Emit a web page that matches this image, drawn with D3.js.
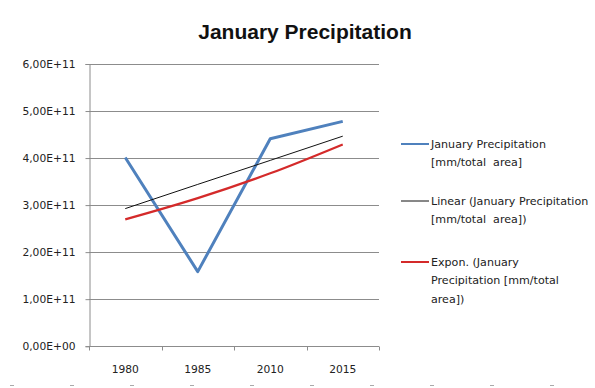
<!DOCTYPE html>
<html>
<head>
<meta charset="utf-8">
<script src="https://cdn.jsdelivr.net/npm/d3@7/dist/d3.min.js"></script>
<style>
  html, body { margin: 0; padding: 0; background: #fff; }
  svg { display: block; font-family: "DejaVu Sans", Verdana, sans-serif; }
</style>
</head>
<body>
<svg id="chart" width="595" height="388"></svg>
<script>
// Categories (years) and measured January precipitation
const years = ["1980", "1985", "2010", "2015"];
const precipitation = [4.0e11, 1.575e11, 4.40e11, 4.77e11];
// Trendline values at each category
const linearTrend = [2.915e11, 3.43e11, 3.94e11, 4.455e11];
const exponTrend = [2.685e11, 3.137e11, 3.665e11, 4.28e11];
// Value axis ticks and their labels
const yTicks = [0, 1e11, 2e11, 3e11, 4e11, 5e11, 6e11];
const yTickLabels = ["0,00E+00", "1,00E+11", "2,00E+11", "3,00E+11", "4,00E+11", "5,00E+11", "6,00E+11"];
// Legend entries
const legendLabels = [
  ["January Precipitation", "[mm/total  area]"],
  ["Linear (January Precipitation", "[mm/total  area])"],
  ["Expon. (January", "Precipitation [mm/total", "area])"]
];

const svg = d3.select("#chart");
const plot = { left: 89, right: 379, top: 63.5, bottom: 345.7 };

const x = d3.scaleBand().domain(years).range([plot.left, plot.right]);
const y = d3.scaleLinear().domain([0, 6e11]).range([plot.bottom, plot.top]);
const cx = d => x(d) + x.bandwidth() / 2;

// Title
svg.append("text")
  .attr("x", 305).attr("y", 39)
  .attr("text-anchor", "middle")
  .attr("font-family", "Liberation Sans, Arial, sans-serif")
  .attr("font-weight", "bold")
  .attr("font-size", 21)
  .attr("fill", "#111")
  .text("January Precipitation");

// Horizontal gridlines
svg.append("g")
  .selectAll("line")
  .data(yTicks.slice(1))
  .join("line")
  .attr("x1", plot.left).attr("x2", plot.right)
  .attr("y1", d => Math.round(y(d)) + 0.5).attr("y2", d => Math.round(y(d)) + 0.5)
  .attr("stroke", "#8c8c8c").attr("stroke-width", 1);

// Value axis
const yAxis = d3.axisLeft(y)
  .tickValues(yTicks)
  .tickSize(4)
  .tickPadding(10)
  .tickFormat((d, i) => yTickLabels[i]);
const gy = svg.append("g")
  .attr("transform", `translate(${plot.left + 0.5},0.5)`)
  .call(yAxis);
gy.select(".domain").attr("stroke", "#8c8c8c");
gy.selectAll(".tick line").attr("stroke", "#8c8c8c");
gy.selectAll(".tick text")
  .attr("font-size", 10.7)
  .attr("font-family", "DejaVu Sans, Verdana, sans-serif")
  .attr("fill", "#222");

// Category axis with ticks between categories
const gx = svg.append("g")
  .attr("transform", `translate(0,${Math.round(plot.bottom) + 0.5})`);
gx.append("line")
  .attr("x1", plot.left).attr("x2", plot.right)
  .attr("stroke", "#8c8c8c");
const boundaries = years.map(d => x(d)).concat([plot.right]);
gx.selectAll("line.tk")
  .data(boundaries)
  .join("line")
  .attr("class", "tk")
  .attr("x1", d => Math.round(d) + 0.5).attr("x2", d => Math.round(d) + 0.5)
  .attr("y1", 0).attr("y2", 4)
  .attr("stroke", "#8c8c8c");
gx.selectAll("text")
  .data(years)
  .join("text")
  .attr("x", d => cx(d))
  .attr("y", 26)
  .attr("text-anchor", "middle")
  .attr("font-size", 10.7)
  .attr("fill", "#222")
  .text(d => d);

// Data series and trendlines
const lineGen = d3.line().x((d, i) => cx(years[i])).y(d => y(d));
const curveGen = d3.line().x((d, i) => cx(years[i])).y(d => y(d)).curve(d3.curveMonotoneX);

svg.append("path")
  .datum(precipitation)
  .attr("d", lineGen)
  .attr("fill", "none")
  .attr("stroke", "#4f81bd")
  .attr("stroke-width", 3)
  .attr("stroke-linejoin", "round");

svg.append("path")
  .datum(linearTrend)
  .attr("d", lineGen)
  .attr("fill", "none")
  .attr("stroke", "#111")
  .attr("stroke-width", 1);

svg.append("path")
  .datum(exponTrend)
  .attr("d", curveGen)
  .attr("fill", "none")
  .attr("stroke", "#d42a2a")
  .attr("stroke-width", 2.2);

// Legend
const legendStyles = [
  { color: "#4f81bd", width: 2, y: 144 },
  { color: "#111", width: 1, y: 201 },
  { color: "#d42a2a", width: 2, y: 262 }
];
const lg = svg.append("g");
legendStyles.forEach((s, i) => {
  lg.append("line")
    .attr("x1", 401).attr("x2", 429)
    .attr("y1", s.y).attr("y2", s.y)
    .attr("stroke", s.color).attr("stroke-width", s.width);
  const t = lg.append("text")
    .attr("x", 431)
    .attr("y", s.y + 4)
    .attr("font-size", 11.1)
    .attr("fill", "#222")
    .style("white-space", "pre");
  legendLabels[i].forEach((line, j) => {
    t.append("tspan")
      .attr("x", 431)
      .attr("dy", j === 0 ? 0 : 18.3)
      .text(line);
  });
});

// Faint marks along the bottom edge
svg.append("line")
  .attr("x1", 10).attr("x2", 590)
  .attr("y1", 385.5).attr("y2", 385.5)
  .attr("stroke", "#aaa")
  .attr("stroke-width", 1)
  .attr("stroke-dasharray", "4 56");
</script>
</body>
</html>
